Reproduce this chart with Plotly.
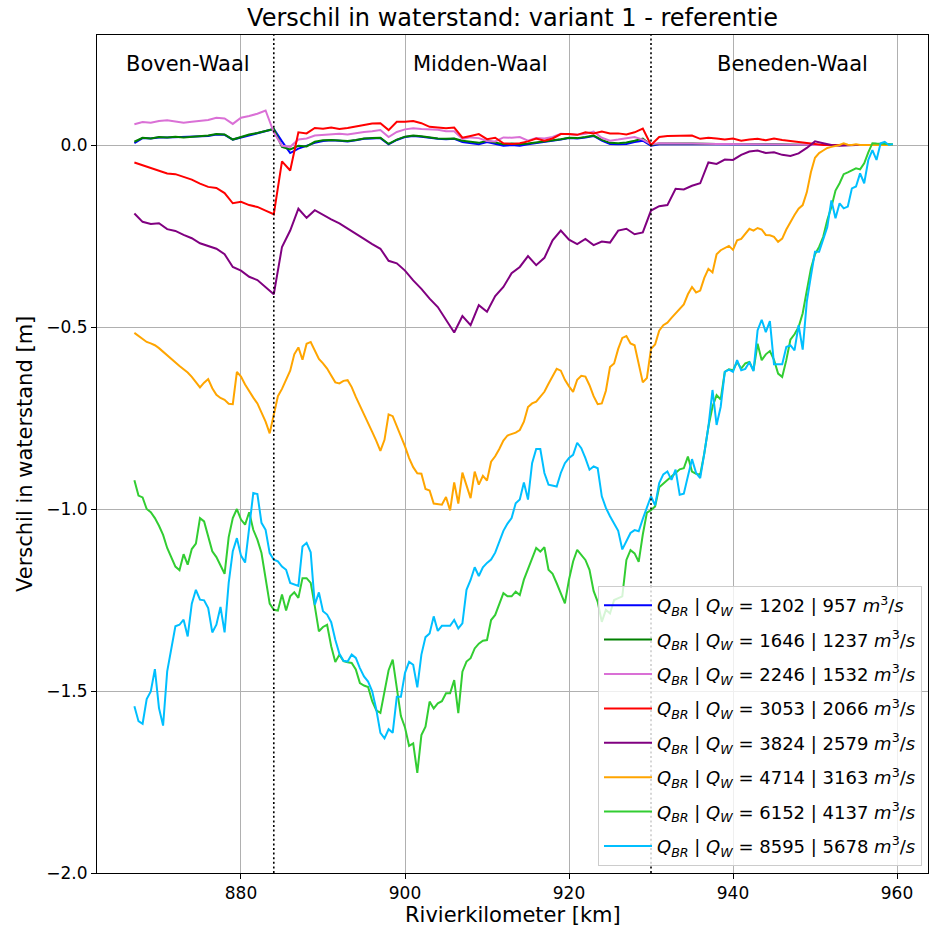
import plotly.graph_objects as go

# ---------------- data ----------------
# river kilometre positions
km_half = [867 + 0.5 * i for i in range(186)]   # 867.0 ... 959.5
km_full = list(range(867, 960))                  # 867 ... 959

q_br = [1202, 1646, 2246, 3053, 3824, 4714, 6152, 8595]
q_w = [957, 1237, 1532, 2066, 2579, 3163, 4137, 5678]

dq_1202 = [
    0.005, 0.019, 0.018, 0.021, 0.021, 0.022, 0.021, 0.022, 0.023, 0.025,
    0.029, 0.028, 0.015, 0.021, 0.028, 0.032, 0.038, 0.044, 0.010, -0.022,
    -0.010, -0.002, 0.006, 0.011, 0.013, 0.012, 0.010, 0.013, 0.017, 0.018,
    0.019, 0.002, 0.014, 0.022, 0.025, 0.023, 0.019, 0.017, 0.016, 0.017,
    0.008, 0.004, 0.002, 0.008, 0.002, -0.002, 0.000, -0.002, 0.002, 0.005,
    0.008, 0.010, 0.015, 0.019, 0.018, 0.021, 0.025, 0.012, 0.003, 0.002,
    0.003, 0.008, 0.012, -0.002, 0.002, 0.003, 0.003, 0.003, 0.003, 0.002,
    0.002, 0.002, 0.002, 0.002, 0.001, 0.001, 0.001, 0.001, 0.001, 0.001,
    0.000, 0.000, 0.000, 0.000, 0.000, 0.000, 0.000, 0.000, 0.000, 0.000,
    0.000, 0.000, 0.000]

dq_1646 = [
    0.009, 0.020, 0.018, 0.022, 0.021, 0.023, 0.021, 0.022, 0.023, 0.026,
    0.030, 0.029, 0.015, 0.022, 0.029, 0.033, 0.039, 0.044, -0.005, -0.012,
    -0.002, -0.004, 0.009, 0.013, 0.014, 0.013, 0.011, 0.014, 0.018, 0.019,
    0.020, 0.003, 0.015, 0.023, 0.026, 0.024, 0.020, 0.018, 0.017, 0.018,
    0.012, 0.010, 0.006, 0.012, 0.006, 0.002, 0.004, 0.002, 0.004, 0.007,
    0.010, 0.011, 0.016, 0.020, 0.019, 0.022, 0.026, 0.014, 0.006, 0.005,
    0.007, 0.012, 0.018, 0.000, 0.004, 0.004, 0.005, 0.004, 0.004, 0.003,
    0.003, 0.003, 0.003, 0.003, 0.002, 0.002, 0.002, 0.002, 0.002, 0.001,
    0.001, 0.001, 0.001, 0.000, 0.000, 0.000, 0.000, 0.000, 0.000, 0.000,
    0.000, 0.000, 0.000]

dq_2246 = [
    0.057, 0.063, 0.061, 0.066, 0.068, 0.064, 0.061, 0.064, 0.067, 0.069,
    0.075, 0.073, 0.058, 0.075, 0.080, 0.086, 0.095, 0.035, -0.002, -0.005,
    0.015, 0.018, 0.026, 0.028, 0.028, 0.031, 0.029, 0.033, 0.036, 0.038,
    0.041, 0.022, 0.036, 0.043, 0.046, 0.044, 0.043, 0.042, 0.038, 0.038,
    0.017, 0.021, 0.019, 0.011, 0.010, 0.021, 0.020, 0.022, 0.012, 0.019,
    0.018, 0.022, 0.031, 0.029, 0.028, 0.031, 0.037, 0.020, 0.012, 0.015,
    0.018, 0.022, 0.015, 0.002, 0.005, 0.004, 0.005, 0.004, 0.004, 0.003,
    0.004, 0.003, 0.003, 0.003, 0.002, 0.002, 0.002, 0.002, 0.002, 0.001,
    0.001, 0.001, 0.001, 0.000, 0.000, 0.000, 0.000, 0.000, 0.000, 0.000,
    0.000, 0.000, 0.000]

dq_3053 = [
    -0.048, -0.055, -0.064, -0.069, -0.078, -0.080, -0.087, -0.095, -0.106, -0.115,
    -0.118, -0.132, -0.160, -0.156, -0.165, -0.170, -0.180, -0.190, -0.045, -0.070,
    0.035, 0.032, 0.047, 0.045, 0.048, 0.044, 0.047, 0.052, 0.055, 0.059,
    0.060, 0.041, 0.064, 0.064, 0.066, 0.060, 0.050, 0.048, 0.046, 0.048,
    0.020, 0.025, 0.030, 0.016, 0.020, 0.005, 0.003, 0.005, 0.010, 0.018,
    0.012, 0.018, 0.030, 0.030, 0.028, 0.035, 0.032, 0.037, 0.032, 0.032,
    0.029, 0.035, 0.045, 0.000, 0.022, 0.025, 0.025, 0.027, 0.026, 0.017,
    0.020, 0.018, 0.015, 0.018, 0.012, 0.015, 0.017, 0.013, 0.018, 0.014,
    0.011, 0.007, 0.006, 0.003, 0.000, 0.000, 0.000, 0.000, 0.000, 0.000,
    0.000, 0.000, 0.000]

dq_3824 = [
    -0.188, -0.211, -0.217, -0.215, -0.231, -0.236, -0.247, -0.256, -0.270, -0.277,
    -0.285, -0.300, -0.335, -0.345, -0.362, -0.371, -0.390, -0.410, -0.280, -0.235,
    -0.175, -0.200, -0.179, -0.192, -0.204, -0.215, -0.230, -0.243, -0.258, -0.272,
    -0.285, -0.318, -0.325, -0.345, -0.372, -0.395, -0.422, -0.445, -0.480, -0.515,
    -0.470, -0.495, -0.440, -0.458, -0.415, -0.390, -0.352, -0.335, -0.305, -0.330,
    -0.310, -0.262, -0.235, -0.260, -0.272, -0.258, -0.275, -0.265, -0.268, -0.235,
    -0.230, -0.245, -0.240, -0.180, -0.168, -0.165, -0.120, -0.122, -0.112, -0.105,
    -0.048, -0.052, -0.040, -0.041, -0.027, -0.018, -0.015, -0.022, -0.020, -0.027,
    -0.030, -0.023, -0.008, 0.010, 0.005, 0.000, -0.002, 0.000, 0.000, 0.000,
    0.000, 0.000, 0.000]

dq_4714 = [
    -0.516, -0.524, -0.532, -0.541, -0.545, -0.550, -0.558, -0.568, -0.578, -0.589,
    -0.598, -0.607, -0.616, -0.625, -0.637, -0.652, -0.666, -0.653, -0.643, -0.668,
    -0.686, -0.695, -0.700, -0.711, -0.712, -0.623, -0.636, -0.658, -0.677, -0.694,
    -0.710, -0.733, -0.760, -0.792, -0.740, -0.690, -0.670, -0.645, -0.620, -0.575,
    -0.556, -0.590, -0.546, -0.541, -0.565, -0.588, -0.600, -0.614, -0.633, -0.652,
    -0.655, -0.648, -0.646, -0.665, -0.692, -0.715, -0.740, -0.764, -0.788, -0.813,
    -0.840, -0.810, -0.740, -0.745, -0.772, -0.797, -0.828, -0.860, -0.885, -0.902,
    -0.903, -0.945, -0.949, -0.985, -0.987, -0.988, -0.967, -1.004, -0.927, -0.985,
    -0.900, -0.938, -0.970, -0.897, -0.933, -0.909, -0.922, -0.870, -0.855, -0.835,
    -0.812, -0.798, -0.794, -0.790, -0.783, -0.760, -0.720, -0.710, -0.705, -0.690,
    -0.678, -0.656, -0.636, -0.615, -0.620, -0.645, -0.663, -0.678, -0.645, -0.634,
    -0.636, -0.660, -0.690, -0.712, -0.710, -0.675, -0.610, -0.600, -0.560, -0.530,
    -0.525, -0.545, -0.550, -0.600, -0.652, -0.640, -0.560, -0.548, -0.510, -0.495,
    -0.488, -0.475, -0.463, -0.450, -0.438, -0.410, -0.390, -0.405, -0.400, -0.365,
    -0.340, -0.350, -0.300, -0.289, -0.284, -0.277, -0.288, -0.262, -0.258, -0.245,
    -0.230, -0.235, -0.228, -0.232, -0.247, -0.248, -0.252, -0.266, -0.257, -0.232,
    -0.210, -0.192, -0.175, -0.165, -0.130, -0.075, -0.035, -0.022, -0.015, -0.008,
    -0.005, -0.003, 0.000, 0.005, 0.001, 0.000, 0.002, 0.000, 0.001, 0.000,
    0.000, 0.000, 0.000, 0.000, 0.000, 0.000]

dq_6152 = [
    -0.921, -0.963, -0.968, -1.000, -1.009, -1.025, -1.046, -1.071, -1.107, -1.134,
    -1.158, -1.168, -1.124, -1.153, -1.110, -1.095, -1.025, -1.034, -1.075, -1.116,
    -1.132, -1.153, -1.178, -1.077, -1.025, -1.000, -1.029, -1.043, -1.009, -1.057,
    -1.084, -1.121, -1.185, -1.260, -1.277, -1.279, -1.235, -1.279, -1.240, -1.229,
    -1.244, -1.190, -1.190, -1.203, -1.267, -1.336, -1.324, -1.318, -1.377, -1.420,
    -1.400, -1.418, -1.421, -1.423, -1.441, -1.478, -1.485, -1.489, -1.528, -1.553,
    -1.560, -1.496, -1.443, -1.414, -1.496, -1.569, -1.600, -1.651, -1.644, -1.725,
    -1.621, -1.598, -1.529, -1.548, -1.534, -1.528, -1.506, -1.506, -1.470, -1.561,
    -1.447, -1.419, -1.410, -1.383, -1.370, -1.362, -1.360, -1.305, -1.291, -1.263,
    -1.231, -1.240, -1.240, -1.227, -1.236, -1.194, -1.165, -1.135, -1.107, -1.117,
    -1.105, -1.167, -1.178, -1.204, -1.230, -1.259, -1.194, -1.144, -1.112, -1.125,
    -1.140, -1.167, -1.225, -1.255, -1.310, -1.277, -1.287, -1.250, -1.245, -1.240,
    -1.140, -1.113, -1.122, -1.145, -1.070, -1.010, -1.003, -0.993, -0.940, -0.929,
    -0.920, -0.911, -0.900, -0.891, -0.888, -0.856, -0.897, -0.903, -0.906, -0.847,
    -0.774, -0.719, -0.687, -0.699, -0.623, -0.616, -0.619, -0.596, -0.614, -0.600,
    -0.596, -0.619, -0.546, -0.591, -0.575, -0.566, -0.590, -0.628, -0.637, -0.591,
    -0.535, -0.520, -0.500, -0.462, -0.400, -0.340, -0.300, -0.280, -0.252, -0.206,
    -0.170, -0.125, -0.105, -0.080, -0.075, -0.070, -0.064, -0.067, -0.050, -0.020,
    0.005, 0.004, 0.003, 0.003, 0.002, 0.002]

dq_8595 = [
    -1.542, -1.583, -1.590, -1.522, -1.501, -1.440, -1.547, -1.595, -1.446, -1.385,
    -1.322, -1.318, -1.304, -1.350, -1.260, -1.222, -1.249, -1.251, -1.272, -1.339,
    -1.318, -1.269, -1.339, -1.203, -1.116, -1.080, -1.128, -1.147, -1.057, -0.956,
    -0.959, -1.038, -1.057, -1.121, -1.139, -1.144, -1.158, -1.167, -1.203, -1.206,
    -1.211, -1.103, -1.093, -1.119, -1.263, -1.229, -1.281, -1.290, -1.311, -1.359,
    -1.398, -1.417, -1.419, -1.400, -1.409, -1.437, -1.460, -1.474, -1.501, -1.551,
    -1.615, -1.630, -1.605, -1.615, -1.516, -1.516, -1.450, -1.420, -1.428, -1.490,
    -1.400, -1.352, -1.342, -1.295, -1.335, -1.321, -1.321, -1.321, -1.305, -1.328,
    -1.314, -1.222, -1.195, -1.160, -1.184, -1.160, -1.148, -1.139, -1.120, -1.090,
    -1.060, -1.040, -1.025, -0.984, -0.974, -0.927, -0.974, -0.874, -0.835, -0.835,
    -0.901, -0.933, -0.936, -0.938, -0.901, -0.874, -0.860, -0.851, -0.818, -0.833,
    -0.860, -0.892, -0.883, -0.888, -0.965, -0.997, -1.020, -1.040, -1.060, -1.111,
    -1.088, -1.066, -1.058, -1.061, -1.027, -0.997, -0.965, -0.990, -0.929, -0.905,
    -0.897, -0.920, -0.892, -0.961, -0.958, -0.910, -0.863, -0.901, -0.915, -0.847,
    -0.774, -0.673, -0.769, -0.719, -0.623, -0.617, -0.623, -0.591, -0.619, -0.615,
    -0.596, -0.621, -0.509, -0.480, -0.514, -0.484, -0.602, -0.602, -0.602, -0.555,
    -0.550, -0.564, -0.495, -0.562, -0.430, -0.360, -0.293, -0.293, -0.260, -0.225,
    -0.152, -0.201, -0.160, -0.174, -0.169, -0.119, -0.114, -0.078, -0.105, -0.041,
    -0.014, -0.041, 0.005, 0.009, 0.000, 0.002]

section_bounds_km = [884, 930]
section_names = ["Boven-Waal", "Midden-Waal", "Beneden-Waal"]

# ---------------- figure ----------------
W, H = 929, 929
PL, PT, PR, PB = 97, 35, 928, 873   # plot-area edges in pixels

x_sets = [km_full, km_full, km_full, km_full, km_full, km_half, km_half, km_half]
y_sets = [dq_1202, dq_1646, dq_2246, dq_3053, dq_3824, dq_4714, dq_6152, dq_8595]
colors = ["#0000ff", "#008000", "#da70d6", "#ff0000", "#800080", "#ffa500", "#32cd32", "#00bfff"]

fig = go.Figure()
for i, (qb, qw, xs, ys, c) in enumerate(zip(q_br, q_w, x_sets, y_sets, colors)):
    label = ("<i>Q</i><sub><i>BR</i></sub> | <i>Q</i><sub><i>W</i></sub> = "
             f"{qb} | {qw} <i>m</i><sup>3</sup>/<i>s</i>")
    fig.add_trace(go.Scatter(x=xs, y=ys, mode="lines", name=label, legendgroup=f"g{i}",
                             line=dict(color=c, width=2)))

for b in section_bounds_km:
    fig.add_shape(type="line", x0=b, x1=b, y0=0, y1=1, xref="x", yref="paper",
                  line=dict(color="black", width=1.6, dash="2px,2.6px"), layer="above")

label_x = [873.5, 909.2, 947.3]
for name, lx in zip(section_names, label_x):
    fig.add_annotation(x=lx, y=0.222, xref="x", yref="y", text=name, showarrow=False,
                       font=dict(size=21, color="black"), xanchor="center", yanchor="middle")

pw, ph = PR - PL, PB - PT
# axis titles placed as annotations
fig.add_annotation(x=0.5, y=-42 / ph, xref="paper", yref="paper",
                   text="Rivierkilometer [km]", showarrow=False,
                   font=dict(size=21, color="black"), xanchor="center", yanchor="middle")
fig.add_annotation(x=-72 / pw, y=0.5, xref="paper", yref="paper",
                   text="Verschil in waterstand [m]", showarrow=False, textangle=-90,
                   font=dict(size=21, color="black"), xanchor="center", yanchor="middle")

axis_common = dict(showgrid=True, gridcolor="#b0b0b0", gridwidth=0.8, showline=True,
                   linecolor="black", linewidth=1, mirror=True, ticks="outside",
                   ticklen=5, tickwidth=1, tickcolor="black", zeroline=False,
                   automargin=False, tickfont=dict(size=17, color="black"))

fig.update_xaxes(range=[862.44, 963.78], tickvals=[880, 900, 920, 940, 960], **axis_common)
fig.update_yaxes(range=[-2.0, 0.3023], tickvals=[-2.0, -1.5, -1.0, -0.5, 0.0], tickformat=".1f",
                 **axis_common)

fig.update_layout(
    width=W, height=H,
    margin=dict(l=PL, r=W - PR, t=PT, b=H - PB, autoexpand=False),
    paper_bgcolor="white", plot_bgcolor="white",
    font=dict(family="DejaVu Sans", size=17, color="black"),
    title=dict(text="Verschil in waterstand: variant 1 - referentie", x=0.5, xref="paper",
               xanchor="center", y=1 - 18 / H, yref="container", yanchor="middle",
               font=dict(size=24, color="black")),
    legend=dict(x=1 - 6 / pw, y=7 / ph, xanchor="right", yanchor="bottom",
                bgcolor="rgba(255,255,255,0.8)", bordercolor="#cccccc", borderwidth=1,
                tracegroupgap=8, itemwidth=48,
                font=dict(size=18, color="black")),
    showlegend=True,
)

# remove the default page margin so the 929x929 figure fills the window exactly
fig.write_html("out.html",
               config={"displayModeBar": False},
               post_script="document.body.style.margin='0';"
                           "document.body.style.overflow='hidden';")
